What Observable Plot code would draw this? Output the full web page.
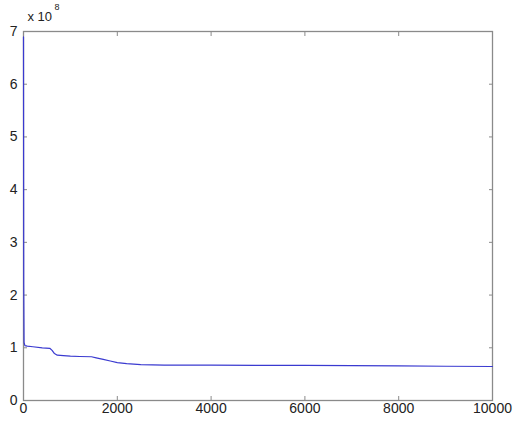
<!DOCTYPE html>
<html>
<head>
<meta charset="utf-8">
<script src="https://cdn.jsdelivr.net/npm/d3@7"></script>
<script src="https://cdn.jsdelivr.net/npm/@observablehq/plot@0.6"></script>
<style>
  html, body { margin: 0; padding: 0; background: #fff; }
  svg { font-family: "Liberation Sans", Arial, sans-serif; }
</style>
</head>
<body>
<div id="chart"></div>
<script>
const iterations = [0, 5, 12, 30, 80, 200, 400, 560, 610, 660, 720, 850, 1000, 1200, 1450, 1550, 1700, 1850, 2000, 2200, 2500, 3000, 4000, 5000, 6000, 7000, 8000, 9000, 10000];
const cost = [6.9, 2.2, 1.1, 1.04, 1.03, 1.02, 1.0, 0.99, 0.95, 0.89, 0.86, 0.85, 0.84, 0.835, 0.83, 0.81, 0.78, 0.75, 0.72, 0.7, 0.68, 0.67, 0.67, 0.668, 0.665, 0.66, 0.655, 0.65, 0.645];
const xTicks = [0, 2000, 4000, 6000, 8000, 10000];
const yTicks = [0, 1, 2, 3, 4, 5, 6, 7];
const exponentBase = "x 10";
const exponentPower = "8";

const data = iterations.map((x, i) => ({x, y: cost[i]}));
const fmt = d3.format("d");

const chart = Plot.plot({
  width: 515,
  height: 422,
  marginLeft: 23,
  marginRight: 23,
  marginTop: 31,
  marginBottom: 22,
  style: {fontSize: "14px", fontFamily: "Liberation Sans, Arial, sans-serif", color: "#222", background: "#fff"},
  x: {domain: [0, 10000]},
  y: {domain: [0, 7]},
  marks: [
    Plot.frame({stroke: "#8a8a8a", strokeWidth: 1.3}),
    Plot.axisX({anchor: "bottom", ticks: xTicks, tickSize: 0, tickPadding: 3, tickFormat: fmt, label: null, fill: "#222"}),
    Plot.axisX({anchor: "bottom", ticks: xTicks, tickSize: -4, tickFormat: () => "", label: null, stroke: "#8a8a8a"}),
    Plot.axisX({anchor: "top", ticks: xTicks, tickSize: -4, tickFormat: () => "", label: null, stroke: "#8a8a8a"}),
    Plot.axisY({anchor: "left", ticks: yTicks, tickSize: 0, tickPadding: 6, tickFormat: fmt, label: null, fill: "#222"}),
    Plot.axisY({anchor: "left", ticks: yTicks, tickSize: -4, tickFormat: () => "", label: null, stroke: "#8a8a8a"}),
    Plot.axisY({anchor: "right", ticks: yTicks, tickSize: -4, tickFormat: () => "", label: null, stroke: "#8a8a8a"}),
    Plot.line(data, {x: "x", y: "y", stroke: "#3a3ad0", strokeWidth: 1.2}),
    Plot.text([exponentBase], {frameAnchor: "top-left", text: d => d, dx: 4, dy: -20, textAnchor: "start", fontSize: 13, fill: "#222"}),
    Plot.text([exponentPower], {frameAnchor: "top-left", text: d => d, dx: 31, dy: -28, textAnchor: "start", fontSize: 9, fill: "#222"})
  ]
});
document.getElementById("chart").appendChild(chart);
</script>
</body>
</html>
